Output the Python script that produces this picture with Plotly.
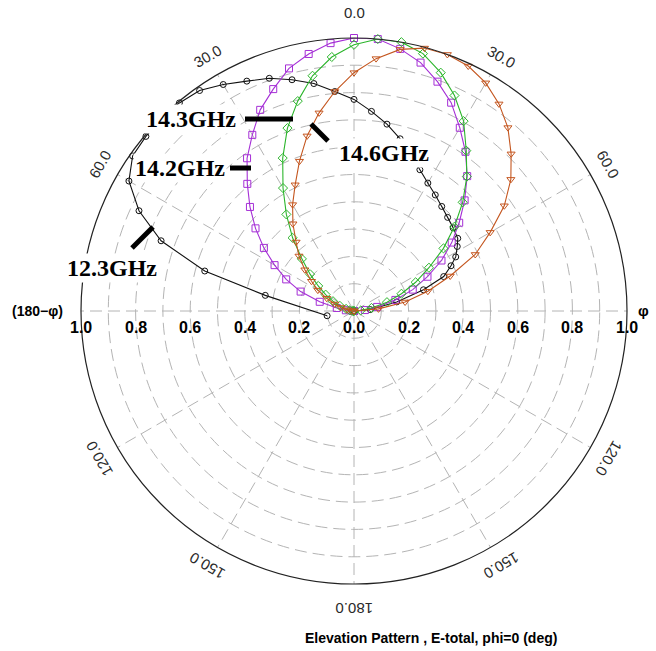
import math
import plotly.graph_objects as go

# ---------------- data ----------------
theta_5deg = list(range(-90, 91, 5))

r_142GHz = [0.0, 0.03, 0.064, 0.13, 0.208, 0.274, 0.336, 0.403, 0.471, 0.539,
            0.608, 0.683, 0.745, 0.813, 0.865, 0.92, 0.956, 0.985, 1.0,
            1.0, 0.975, 0.942, 0.894, 0.842, 0.775, 0.712, 0.645, 0.573,
            0.503, 0.437, 0.37, 0.297, 0.229, 0.157, 0.086, 0.04, 0.0]

r_143GHz = [0.0, 0.005, 0.015, 0.03, 0.055, 0.085, 0.12, 0.16, 0.21, 0.27,
            0.35, 0.432, 0.52, 0.618, 0.713, 0.796, 0.875, 0.934, 0.975,
            1.0, 1.0, 0.976, 0.929, 0.871, 0.803, 0.717, 0.643, 0.563,
            0.48, 0.40, 0.317, 0.249, 0.185, 0.125, 0.065, 0.025, 0.0]

r_146GHz = [0.0, 0.01, 0.025, 0.05, 0.075, 0.11, 0.153, 0.19, 0.235, 0.285,
            0.33, 0.39, 0.45, 0.51, 0.584, 0.664, 0.737, 0.807, 0.873,
            0.928, 0.973, 0.997, 1.0, 0.99, 0.965, 0.926, 0.877, 0.814,
            0.75, 0.672, 0.576, 0.49, 0.375, 0.28, 0.19, 0.09, 0.0]

theta_123GHz = [-100, -80, -75, -70, -65, -60, -55, -50, -45, -40, -35, -30,
                -25, -20, -15, -10, -5, 0, 5, 10, 15, 20, 25, 30, 35, 40, 45,
                50, 55, 58, 62, 65, 69, 73, 78, 85, 90]
r_123GHz = [0.10, 0.33, 0.566, 0.752, 0.869, 0.952, 0.99, 0.995, 0.998, 0.995,
            0.986, 0.958, 0.929, 0.907, 0.877, 0.846, 0.807, 0.775, 0.734,
            0.695, 0.653, 0.61, 0.571, 0.541, 0.519, 0.5, 0.485, 0.474, 0.464,
            0.446, 0.422, 0.392, 0.352, 0.266, 0.16, 0.06, 0.0]

series_names = ["12.3GHz", "14.2GHz", "14.3GHz", "14.6GHz"]
series_colors = ["#111111", "#a52fd6", "#2bb52b", "#c4561f"]
series_symbols = ["circle-open", "square-open", "diamond-open", "triangle-down-open"]
series_marker_sizes = [6, 7, 7, 7]

angle_ticks = [0, 30, 60, 120, 150, 180, -150, -120, -60, -30]
angle_labels = ["0.0", "30.0", "60.0", "120.0", "150.0", "180.0",
                "150.0", "120.0", "60.0", "30.0"]
radial_ticks = [-1.0, -0.8, -0.6, -0.4, -0.2, 0.0, 0.2, 0.4, 0.6, 0.8, 1.0]
radial_labels = ["1.0", "0.8", "0.6", "0.4", "0.2", "0.0",
                 "0.2", "0.4", "0.6", "0.8", "1.0"]

title_text = "Elevation Pattern , E-total, phi=0 (deg)"

# ---------------- layout geometry ----------------
W, H = 656, 651
CX, CY, R = 354, 311, 273


def px(x):
    return x / W


def py(y):
    return 1 - y / H


fig = go.Figure()

series = [
    (theta_123GHz, r_123GHz),
    (theta_5deg, r_142GHz),
    (theta_5deg, r_143GHz),
    (theta_5deg, r_146GHz),
]
for (th, rr), name, col, sym, ms in zip(series, series_names, series_colors,
                                        series_symbols, series_marker_sizes):
    fig.add_trace(go.Scatterpolar(
        theta=th, r=rr, mode="lines+markers", name=name,
        line=dict(color=col, width=1.1),
        marker=dict(symbol=sym, size=ms, color=col, line=dict(color=col, width=1)),
        showlegend=False,
    ))

grid_col = "#b4b4b4"
fig.update_layout(
    width=W, height=H,
    margin=dict(l=0, r=0, t=0, b=0),
    paper_bgcolor="white",
    showlegend=False,
    polar=dict(
        domain=dict(x=[px(CX - R), px(CX + R)], y=[py(CY + R), py(CY - R)]),
        bgcolor="white",
        angularaxis=dict(
            rotation=90, direction="clockwise",
            dtick=30, tickmode="linear",
            showgrid=True, gridcolor=grid_col, gridwidth=1, griddash="12px,6px",
            showline=True, linecolor="#222222", linewidth=1.2,
            showticklabels=False, ticks="",
        ),
        radialaxis=dict(
            range=[0, 1], dtick=0.1, tickmode="linear", angle=0,
            showgrid=True, gridcolor=grid_col, gridwidth=1, griddash="12px,6px",
            showline=False, showticklabels=False, ticks="",
        ),
    ),
)

annotations = []
# angular labels (rotated tangentially)
for a, t in zip(angle_ticks, angle_labels):
    rl = 298 if a in (0, 180) else 294
    x = CX + rl * math.sin(math.radians(a))
    y = CY - rl * math.cos(math.radians(a))
    annotations.append(dict(
        x=px(x), y=py(y), xref="paper", yref="paper", text=t, showarrow=False,
        textangle=a, xanchor="center", yanchor="middle",
        font=dict(family="Liberation Sans, Arial", size=15, color="#2a2a2a"),
    ))

annotations.append(dict(x=px(643), y=py(310), xref="paper", yref="paper", text="<b>φ</b>",
                        showarrow=False, xanchor="center", yanchor="middle",
                        font=dict(family="Liberation Sans, Arial", size=15, color="black")))
annotations.append(dict(x=px(37), y=py(311), xref="paper", yref="paper", text="<b>(180−φ)</b>",
                        showarrow=False, xanchor="center", yanchor="middle",
                        font=dict(family="Liberation Sans, Arial", size=14, color="black")))

# radial labels
for v, t in zip(radial_ticks, radial_labels):
    annotations.append(dict(
        x=px(CX + v * R), y=py(327), xref="paper", yref="paper", text="<b>" + t + "</b>",
        showarrow=False, xanchor="center", yanchor="middle",
        font=dict(family="Liberation Sans, Arial", size=16, color="black"),
    ))

# title
annotations.append(dict(x=px(431), y=py(638), xref="paper", yref="paper",
                        text="<b>" + title_text + "</b>", showarrow=False,
                        xanchor="center", yanchor="middle",
                        font=dict(family="Liberation Sans, Arial", size=14, color="black")))

# frequency labels with white boxes
freq_label_pos = {"14.3GHz": (191, 119), "14.2GHz": (180, 168),
                  "12.3GHz": (112, 268), "14.6GHz": (384, 153)}
for name in series_names:
    x, y = freq_label_pos[name]
    annotations.append(dict(
        x=px(x), y=py(y), xref="paper", yref="paper", text="<b>" + name + "</b>",
        showarrow=False, xanchor="center", yanchor="middle",
        bgcolor="white", borderpad=1,
        font=dict(family="Liberation Serif, Times New Roman", size=24, color="black"),
    ))

fig.update_layout(annotations=annotations)

shapes = []
# pointer bars
pointers = [((245, 119), (293, 119)), ((230, 168), (251, 168)),
            ((311, 124), (328, 141)), ((153, 227), (132, 248))]
for (x0, y0), (x1, y1) in pointers:
    shapes.append(dict(type="line", xref="paper", yref="paper",
                       x0=px(x0), y0=py(y0), x1=px(x1), y1=py(y1),
                       line=dict(color="black", width=5), layer="above"))
# small tick crosses on the horizontal axis
for k in range(-9, 10):
    x = CX + k * 0.1 * R
    shapes.append(dict(type="line", xref="paper", yref="paper",
                       x0=px(x), y0=py(CY - 7), x1=px(x), y1=py(CY + 7),
                       line=dict(color=grid_col, width=1), layer="below"))
fig.update_layout(shapes=shapes)

fig.write_html(
    "out.html",
    config={"displayModeBar": False},
    post_script="document.body.style.margin='0';document.body.style.padding='0';"
                "document.body.style.overflow='hidden';",
)
